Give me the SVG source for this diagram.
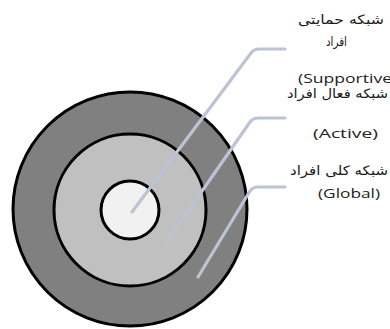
<svg xmlns="http://www.w3.org/2000/svg" width="390" height="329" viewBox="0 0 390 329">
<style>
.ring{stroke:#000;stroke-width:3}
.lead{fill:none;stroke:#bcc4d3;stroke-width:3.2;stroke-linecap:round;stroke-linejoin:round}
.fa{font-family:"DejaVu Sans",sans-serif;font-size:13px;fill:#1a1a1a}
.en{font-family:"Open Sans","Liberation Sans",sans-serif;font-size:13px;fill:#222}
</style>
<rect width="390" height="329" fill="#fff"/>
<g id="global-ring"><circle class="ring" cx="130" cy="209" r="117" fill="#808080"/></g>
<g id="active-ring"><circle class="ring" cx="130" cy="210" r="76" fill="#c0c0c0"/></g>
<g id="supportive-core"><circle class="ring" cx="130" cy="210" r="29" fill="#f1f1f1"/></g>
<g id="connectors">
<path class="lead" d="M132,212 L251,53 Q254,49 259,49 L285,49"/>
<path class="lead" d="M166,243 L250,122 Q253,118 258,118 L285,118"/>
<path class="lead" d="M198,277 L250,191 Q253,187 258,187 L285,187"/>
</g>
<g id="label-supportive">
<text class="fa" x="298" y="24" textLength="86" lengthAdjust="spacingAndGlyphs">شبکه حمایتی</text>
<text class="fa" x="326" y="46" textLength="21" lengthAdjust="spacingAndGlyphs">افراد</text>
<text class="en" x="298" y="83" textLength="94" lengthAdjust="spacingAndGlyphs">(Supportive</text>
</g>
<g id="label-active">
<text class="fa" x="287" y="98" textLength="101" lengthAdjust="spacingAndGlyphs">شبکه فعال افراد</text>
<text class="en" x="313" y="138" textLength="65" lengthAdjust="spacingAndGlyphs">(Active)</text>
</g>
<g id="label-global">
<text class="fa" x="290" y="175" textLength="98" lengthAdjust="spacingAndGlyphs">شبکه کلی افراد</text>
<text class="en" x="318" y="198" textLength="62" lengthAdjust="spacingAndGlyphs">(Global)</text>
</g>
</svg>
